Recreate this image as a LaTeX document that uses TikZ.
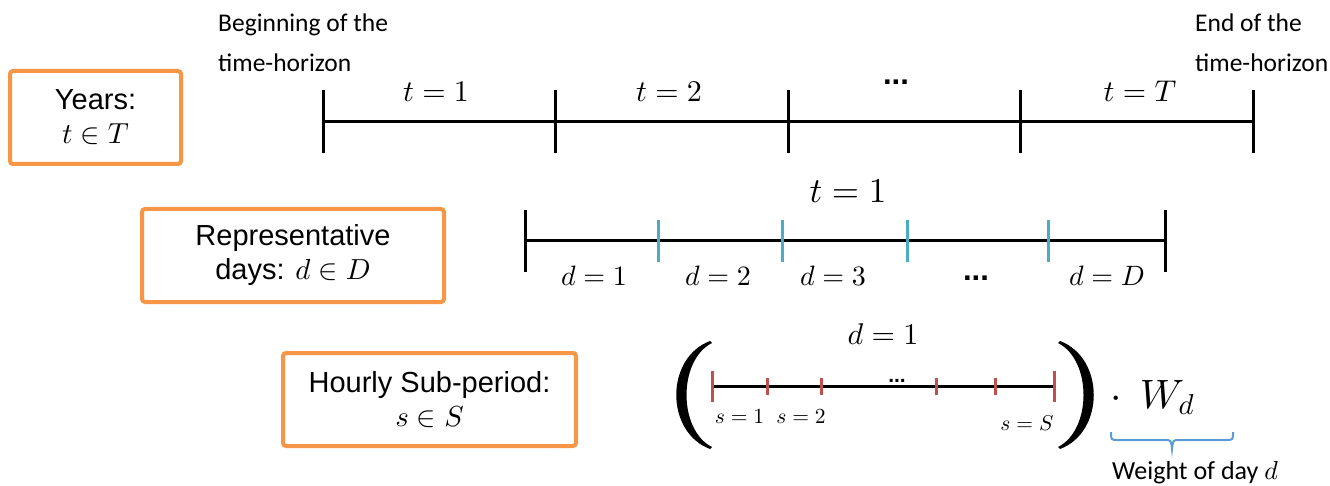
\documentclass[tikz,border=0pt]{standalone}
\DeclareFontShape{OML}{cmm}{m}{it}{<->cmmi10}{}
\DeclareFontShape{OML}{cmm}{b}{it}{<->cmmib10}{}
\DeclareFontShape{OMS}{cmsy}{m}{n}{<->cmsy10}{}
\DeclareFontShape{OMS}{cmsy}{b}{n}{<->cmbsy10}{}
\DeclareFontShape{OT1}{cmr}{m}{n}{<->cmr10}{}
\DeclareFontShape{OMX}{cmex}{m}{n}{<->cmex10}{}
\usepackage{fontspec}
\newfontfamily\arialf{Liberation Sans}
\newfontfamily\calf{Carlito}
\definecolor{boxorange}{HTML}{F79646}
\definecolor{tickblue}{HTML}{4BACC6}
\definecolor{tickred}{HTML}{C0504D}
\definecolor{bracecol}{HTML}{5B9BD5}
\begin{document}
\begin{tikzpicture}[x=1pt,y=-1pt,
  obox/.style={draw=boxorange,line width=4pt,rounded corners=3pt,inner sep=0pt,align=center,font=\arialf\fontsize{29}{34}\selectfont},
  tline/.style={line width=3pt,black},
  btick/.style={line width=3pt,tickblue},
  rtick/.style={line width=3pt,tickred},
  lab/.style={inner sep=0pt,anchor=base},
  note/.style={inner sep=0pt,anchor=base west,font=\calf\fontsize{25.5}{30}\selectfont},
  dotsl/.style={inner sep=0pt,anchor=base,font=\arialf\bfseries\fontsize{31}{31}\selectfont}
]
\useasboundingbox (0,0) rectangle (1330,486);

% boxes
\node[obox,minimum width=171,minimum height=93] (years) at (95.5,117.5) {Years:\\$t\in T$};
\node[obox,minimum width=302,minimum height=93] (days) at (293,255.5) {Representative\\days: $d\in D$};
\node[obox,minimum width=293,minimum height=93] (hours) at (429.5,399.5) {Hourly Sub-period:\\$s\in S$};

% horizon notes
\node[note] (beg1) at (218,32) {Beginning of the};
\node[note] (beg2) at (218,72) {time-horizon};
\node[note] (end1) at (1195,32) {End of the};
\node[note] (end2) at (1195,72) {time-horizon};

% years timeline
\coordinate (y0) at (323,122);
\coordinate (y4) at (1253,122);
\draw[tline] (y0) -- (y4);
\foreach \x in {323,555,788,1020,1253}{
  \draw[tline] (\x,90) -- (\x,153);
}
\node[lab,font=\fontsize{30}{32}\selectfont] (t1) at (436,102) {$t=1$};
\node[lab,font=\fontsize{30}{32}\selectfont] (t2) at (669,102) {$t=2$};
\node[dotsl] (tdots) at (896,85) {...};
\node[lab,font=\fontsize{30}{32}\selectfont] (tT) at (1140,102) {$t=T$};

% days timeline
\coordinate (d0) at (525,241);
\coordinate (d5) at (1165,241);
\draw[tline] (d0) -- (d5);
\draw[tline] (525,210) -- (525,272);
\draw[tline] (1165,210) -- (1165,272);
\foreach \x in {658,782,907,1048}{
  \draw[btick] (\x,220) -- (\x,262);
}
\node[lab,font=\fontsize{35}{38}\selectfont] (tone) at (848,203) {$t=1$};
\node[lab,font=\fontsize{28}{30}\selectfont] (dl1) at (594,286) {$d=1$};
\node[lab,font=\fontsize{28}{30}\selectfont] (dl2) at (718,286) {$d=2$};
\node[lab,font=\fontsize{28}{30}\selectfont] (dl3) at (833,286) {$d=3$};
\node[dotsl] (ddots) at (976,280) {...};
\node[lab,font=\fontsize{28}{30}\selectfont] (dlD) at (1107,286) {$d=D$};

% hours timeline
\coordinate (s0) at (712,386);
\coordinate (s5) at (1054,386);
\draw[tline] (s0) -- (s5);
\draw[rtick] (712,371) -- (712,402);
\draw[rtick] (1054,371) -- (1054,402);
\foreach \x in {767,821,936,995}{
  \draw[rtick] (\x,378) -- (\x,395);
}
\node[lab,font=\fontsize{30}{32}\selectfont] (done) at (883,344) {$d=1$};
\node[lab,font=\fontsize{21.5}{24}\selectfont] (sl1) at (739.5,423) {$s=1$};
\node[lab,font=\fontsize{21.5}{24}\selectfont] (sl2) at (801,423) {$s=2$};
\node[lab,font=\fontsize{21.5}{24}\selectfont] (slS) at (1027,430) {$s=S$};
\node[dotsl,font=\arialf\bfseries\fontsize{21}{24}\selectfont] (sdots) at (897,382) {...};

% parentheses
\fill[black] (710,341) .. controls (665,358) and (665,432) .. (710,449) -- (712,447) .. controls (678,430) and (678,360) .. (712,343) -- cycle;
\fill[black] (1060,341) .. controls (1105,358) and (1105,432) .. (1060,449) -- (1058,447) .. controls (1092,430) and (1092,360) .. (1058,343) -- cycle;

% weight
\node[inner sep=0pt,anchor=base west,font=\fontsize{41}{44}\selectfont] (wd) at (1110,408) {$\cdot\;\,W_d$};
\draw[bracecol,line width=2pt] (1111,432) .. controls (1111,440) .. (1118,440) -- (1165,440) .. controls (1171,440) .. (1172,449) .. controls (1173,440) .. (1179,440) -- (1226,440) .. controls (1233,440) .. (1233,432);
\node[inner sep=0pt,anchor=base west,font=\calf\fontsize{26}{30}\selectfont] (wlab) at (1112,479) {Weight of day $d$};
\end{tikzpicture}
\end{document}
